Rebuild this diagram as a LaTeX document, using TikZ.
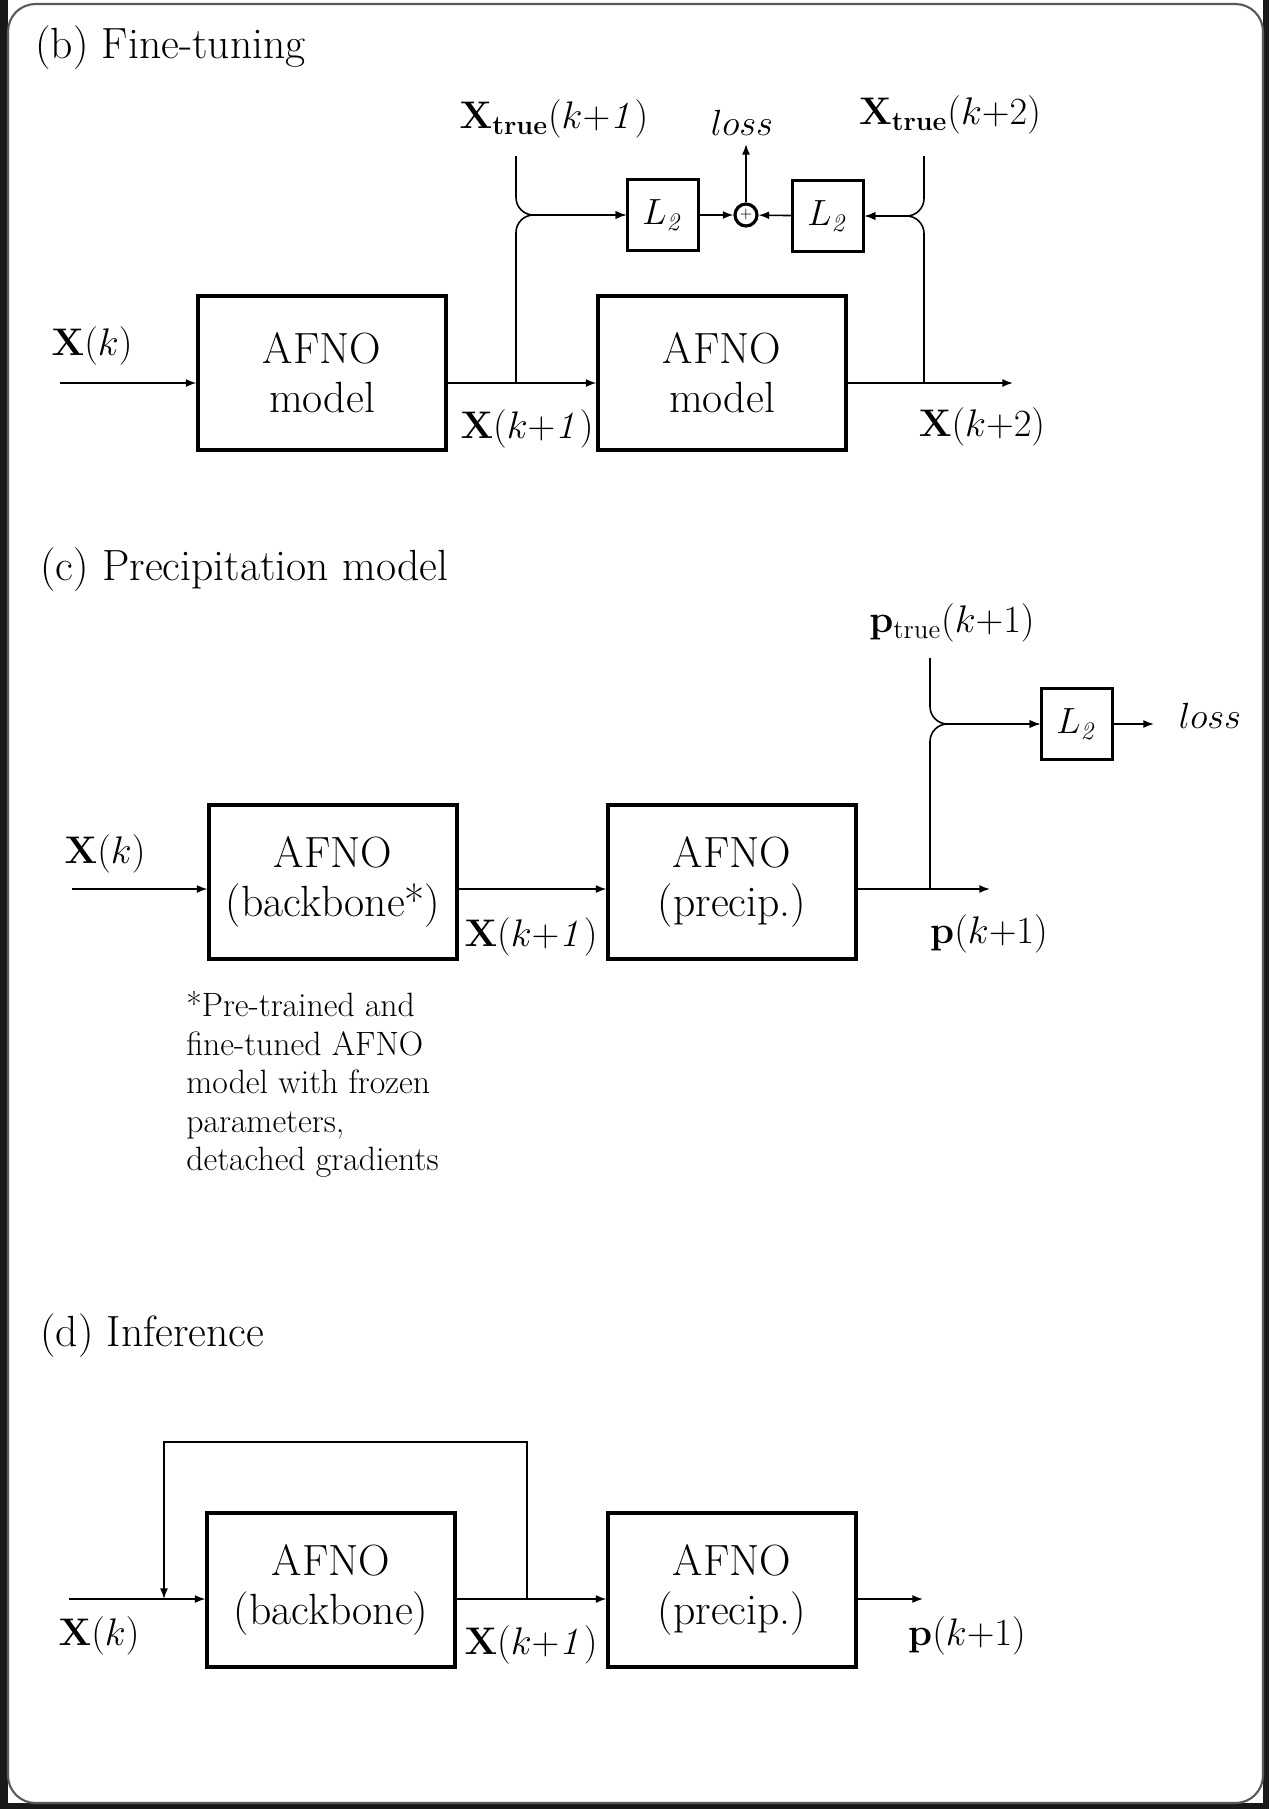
\RequirePackage{fix-cm}
\documentclass[tikz,border=0pt]{standalone}
\usepackage{amsmath,amssymb}
\usepackage{xcolor}
\usepackage{tikz}
\usetikzlibrary{arrows.meta}

\begin{document}
\begin{tikzpicture}[x=0.02cm, y=-0.02cm]
    \tikzset{afno/.style={draw, line width=1.8pt, minimum width=4.96cm, minimum height=3.08cm,
                          align=center, inner sep=0pt, font=\fontsize{24.88}{28}\selectfont},
             lsq/.style={draw, line width=1.4pt, minimum size=1.42cm, inner sep=0pt,
                         font=\fontsize{20.74}{25}\selectfont},
             lbl/.style={inner sep=0pt, font=\fontsize{21.9}{26}\selectfont},
             ttl/.style={anchor=west, inner sep=0pt, font=\fontsize{24.88}{28}\selectfont},
             wire/.style={line width=0.9pt, -{Latex[length=6pt, width=4.5pt]}}}
    \useasboundingbox (0,0) rectangle (1269,1809);
    % frame
    \fill[black!90] (0,0) rectangle (8,1809);
    \fill[black!90] (1263,0) rectangle (1269,1809);
    \fill[black!90] (0,1803) rectangle (1269,1809);
    \draw[black!65, line width=1.2pt, rounded corners=0.55cm] (8,4) rectangle (1263,1803);

    % (b) fine-tuning
    \node[ttl] (tb) at (35,48) {(b) Fine-tuning};
    \node[afno] (b1) at (322,373) {AFNO\\model};
    \node[afno] (b2) at (722,373) {AFNO\\model};
    \node[lsq] (La) at (663,215) {$L_{\mathit{2}}$};
    \node[lsq] (Lb) at (828,216) {$L_{\mathit{2}}$};
    \node[circle, draw, line width=1.8pt, minimum size=0.44cm, inner sep=0pt,
          font=\fontsize{9}{9}\selectfont] (sum) at (746,215) {$+$};
    \coordinate (inb) at (60,383);   \coordinate (outb) at (1013,383);
    \coordinate (jb1) at (516,383);  \coordinate (jb2) at (924,383);
    \coordinate (tb1) at (516,156);  \coordinate (tb2) at (924,156);
    \coordinate (lossb) at (746,144);
    \draw[wire] (inb) -- (inb -| b1.west);
    \draw[wire] (b1.east |- inb) -- (b2.west |- inb);
    \draw[wire] (b2.east |- inb) -- (outb);
    \draw[wire, rounded corners=0.35cm] (tb1) |- (La.west);
    \draw[wire, rounded corners=0.35cm] (jb1) |- (La.west);
    \draw[wire, rounded corners=0.35cm] (tb2) |- (Lb.east);
    \draw[wire, rounded corners=0.35cm] (jb2) |- (Lb.east);
    \draw[wire] (La) -- (sum);
    \draw[wire] (Lb) -- (sum);
    \draw[wire] (sum) -- (lossb);
    \node[lbl] (xb0) at (92,346) {$\mathbf{X}(k)$};
    \node[lbl] (xb1) at (527,429) {$\mathbf{X}(k{+}\mathit{1})$};
    \node[lbl] (xb2) at (982,427) {$\mathbf{X}(k{+}2)$};
    \node[lbl] (xt1) at (554,119) {$\mathbf{X}_{\mathbf{true}}(k{+}\mathit{1})$};
    \node[lbl] (xt2) at (950,115) {$\mathbf{X}_{\mathbf{true}}(k{+}2)$};
    \node[lbl, font=\fontsize{20.74}{25}\selectfont] (lb) at (742,123) {$loss$};

    % (c) precipitation model
    \node[ttl] (tc) at (40,570) {(c) Precipitation model};
    \node[afno] (b3) at (333,882) {AFNO\\(backbone*)};
    \node[afno] (b4) at (732,882) {AFNO\\(precip.)};
    \node[lsq] (Lc) at (1077,724) {$L_{\mathit{2}}$};
    \coordinate (inc) at (72,889);   \coordinate (outc) at (990,889);
    \coordinate (jc) at (930,889);   \coordinate (tcp) at (930,658);
    \coordinate (lossc) at (1154,724);
    \draw[wire] (inc) -- (inc -| b3.west);
    \draw[wire] (b3.east |- inc) -- (b4.west |- inc);
    \draw[wire] (b4.east |- inc) -- (outc);
    \draw[wire, rounded corners=0.35cm] (tcp) |- (Lc.west);
    \draw[wire, rounded corners=0.35cm] (jc) |- (Lc.west);
    \draw[wire] (Lc.east) -- (lossc);
    \node[lbl] (xc0) at (105,854) {$\mathbf{X}(k)$};
    \node[lbl] (xc1) at (531,937) {$\mathbf{X}(k{+}\mathit{1})$};
    \node[lbl] (pc1) at (989,934) {$\mathbf{p}(k{+}1)$};
    \node[lbl] (pt1) at (952,623) {$\mathbf{p}_{\mathrm{true}}(k{+}1)$};
    \node[lbl, font=\fontsize{20.74}{25}\selectfont] (lc) at (1210,716) {$loss$};
    \node[anchor=north west, inner sep=0pt, align=left, font=\fontsize{19.2}{21.9}\selectfont]
        (note) at (186,991) {*Pre-trained and\\fine-tuned AFNO\\model with frozen\\parameters,\\detached gradients};

    % (d) inference
    \node[ttl] (td) at (40,1336) {(d) Inference};
    \node[afno] (b5) at (331,1590) {AFNO\\(backbone)};
    \node[afno] (b6) at (732,1590) {AFNO\\(precip.)};
    \coordinate (ind) at (69,1599);   \coordinate (outd) at (923,1599);
    \coordinate (jd) at (527,1599);   \coordinate (fd) at (164,1599);
    \draw[wire] (ind) -- (ind -| b5.west);
    \draw[wire] (b5.east |- ind) -- (b6.west |- ind);
    \draw[wire] (b6.east |- ind) -- (outd);
    \draw[wire] (jd) -- (527,1442) -- (164,1442) -- (fd);
    \node[lbl] (xd0) at (99,1636) {$\mathbf{X}(k)$};
    \node[lbl] (xd1) at (531,1645) {$\mathbf{X}(k{+}\mathit{1})$};
    \node[lbl] (pd1) at (967,1636) {$\mathbf{p}(k{+}1)$};
\end{tikzpicture}
\end{document}
